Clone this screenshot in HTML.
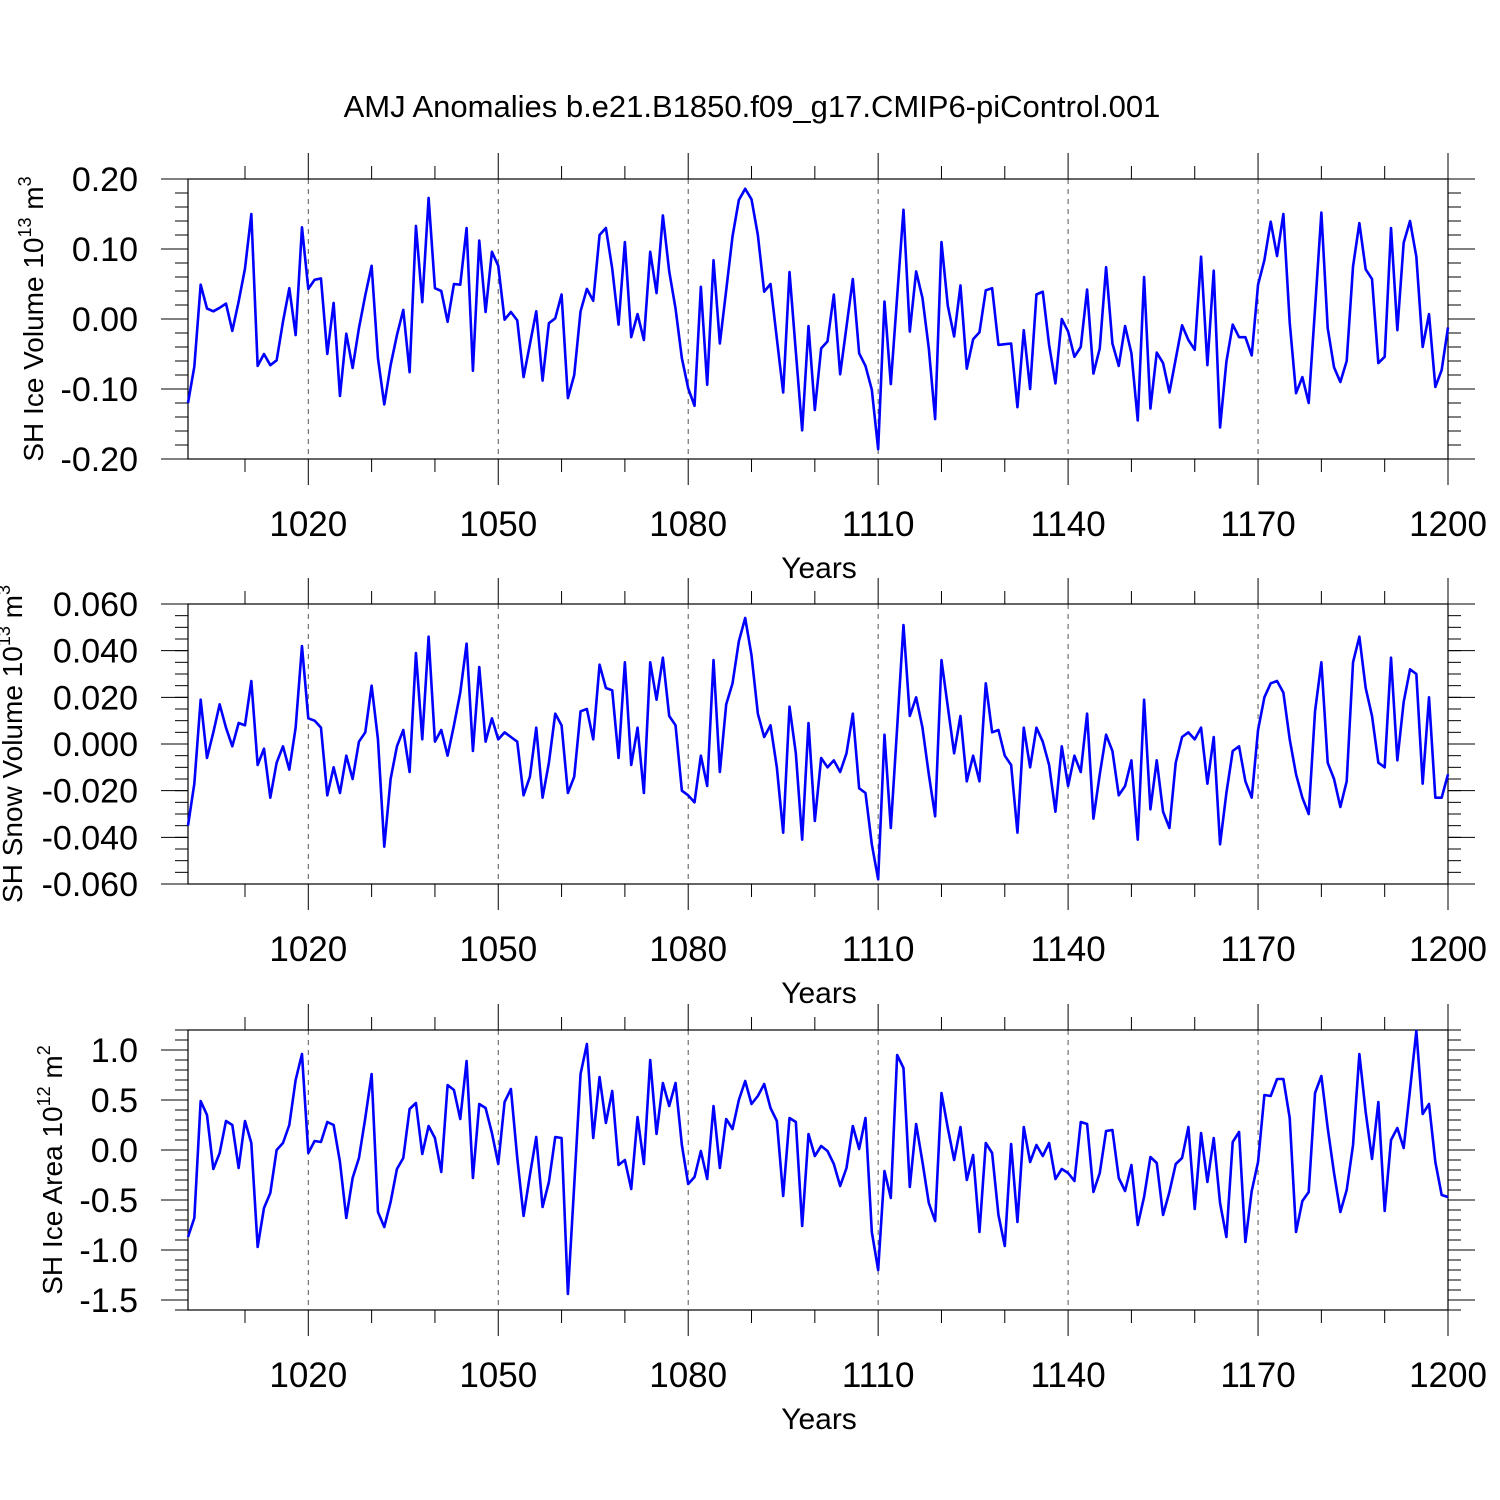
<!DOCTYPE html>
<html><head><meta charset="utf-8"><style>
html,body{margin:0;padding:0;background:#fff;}
svg{display:block;font-family:"Liberation Sans",Arial,sans-serif;}
</style></head><body>
<svg id="chart" width="1500" height="1500" viewBox="0 0 1500 1500" xmlns="http://www.w3.org/2000/svg">
<rect width="1500" height="1500" fill="#fff"/>
<text x="752" y="117" font-size="31" text-anchor="middle">AMJ Anomalies b.e21.B1850.f09_g17.CMIP6-piControl.001</text>
<g id="plots"></g>
</svg>
<script>
const startYear = 1001;
const endYear = 1200;
const xTickLabels = [1020,1050,1080,1110,1140,1170,1200];
const iceVol = [-0.120,-0.068,0.049,0.015,0.011,0.016,0.022,-0.017,0.025,0.072,0.150,-0.067,-0.050,-0.066,-0.059,-0.004,0.044,-0.023,0.131,0.043,
0.056,0.058,-0.050,0.023,-0.110,-0.021,-0.070,-0.013,0.034,0.076,-0.056,-0.122,-0.066,-0.023,0.013,-0.076,0.133,0.024,0.173,0.044,
0.040,-0.004,0.050,0.049,0.130,-0.074,0.112,0.010,0.096,0.076,-0.001,0.010,-0.002,-0.083,-0.036,0.011,-0.088,-0.006,0.001,0.035,
-0.113,-0.080,0.011,0.043,0.026,0.120,0.130,0.072,-0.008,0.110,-0.026,0.007,-0.030,0.096,0.037,0.148,0.068,0.015,-0.056,-0.099,
-0.124,0.046,-0.094,0.084,-0.035,0.041,0.118,0.170,0.186,0.171,0.120,0.039,0.050,-0.028,-0.105,0.067,-0.047,-0.159,-0.010,-0.130,
-0.042,-0.032,0.035,-0.079,-0.011,0.057,-0.049,-0.067,-0.101,-0.186,0.025,-0.093,0.032,0.156,-0.018,0.068,0.030,-0.042,-0.143,0.110,
0.019,-0.025,0.048,-0.071,-0.029,-0.019,0.041,0.044,-0.037,-0.036,-0.035,-0.126,-0.016,-0.100,0.035,0.039,-0.037,-0.092,0.000,-0.018,
-0.054,-0.040,0.042,-0.078,-0.042,0.074,-0.035,-0.067,-0.010,-0.049,-0.145,0.060,-0.128,-0.048,-0.063,-0.105,-0.057,-0.009,-0.030,-0.044,
0.089,-0.066,0.069,-0.155,-0.061,-0.008,-0.026,-0.026,-0.052,0.049,0.084,0.139,0.090,0.150,-0.005,-0.106,-0.083,-0.120,0.015,0.152,
-0.013,-0.069,-0.090,-0.060,0.075,0.137,0.071,0.057,-0.063,-0.054,0.130,-0.016,0.109,0.140,0.089,-0.040,0.007,-0.097,-0.073,-0.012];
const snowVol = [-0.035,-0.017,0.019,-0.006,0.005,0.017,0.007,-0.001,0.009,0.008,0.027,-0.009,-0.002,-0.023,-0.008,-0.001,-0.011,0.007,0.042,0.011,
0.010,0.007,-0.022,-0.010,-0.021,-0.005,-0.015,0.001,0.005,0.025,0.002,-0.044,-0.015,-0.001,0.006,-0.012,0.039,0.002,0.046,0.001,
0.006,-0.005,0.008,0.022,0.043,-0.003,0.033,0.001,0.011,0.002,0.005,0.003,0.001,-0.022,-0.014,0.007,-0.023,-0.008,0.013,0.008,
-0.021,-0.014,0.014,0.015,0.002,0.034,0.024,0.023,-0.006,0.035,-0.009,0.007,-0.021,0.035,0.019,0.037,0.012,0.008,-0.020,-0.022,
-0.025,-0.005,-0.018,0.036,-0.012,0.017,0.026,0.044,0.054,0.038,0.013,0.003,0.008,-0.010,-0.038,0.016,-0.004,-0.041,0.009,-0.033,
-0.006,-0.010,-0.007,-0.012,-0.004,0.013,-0.019,-0.021,-0.043,-0.058,0.004,-0.036,0.007,0.051,0.012,0.020,0.007,-0.013,-0.031,0.036,
0.016,-0.004,0.012,-0.016,-0.005,-0.016,0.026,0.005,0.006,-0.005,-0.009,-0.038,0.007,-0.010,0.007,0.001,-0.009,-0.029,-0.001,-0.018,
-0.005,-0.012,0.013,-0.032,-0.013,0.004,-0.003,-0.022,-0.018,-0.007,-0.041,0.019,-0.028,-0.007,-0.029,-0.036,-0.008,0.003,0.005,0.002,
0.007,-0.017,0.003,-0.043,-0.021,-0.003,-0.001,-0.016,-0.023,0.006,0.020,0.026,0.027,0.022,0.002,-0.013,-0.023,-0.030,0.014,0.035,
-0.008,-0.015,-0.027,-0.016,0.035,0.046,0.024,0.012,-0.008,-0.010,0.037,-0.007,0.018,0.032,0.030,-0.017,0.020,-0.023,-0.023,-0.013];
const iceArea = [-0.87,-0.68,0.49,0.35,-0.19,-0.03,0.29,0.25,-0.18,0.29,0.07,-0.97,-0.58,-0.43,0.00,0.07,0.25,0.70,0.96,-0.03,
0.09,0.08,0.28,0.25,-0.12,-0.68,-0.28,-0.08,0.32,0.76,-0.62,-0.77,-0.52,-0.19,-0.08,0.41,0.47,-0.04,0.24,0.12,
-0.22,0.65,0.60,0.31,0.89,-0.28,0.46,0.42,0.17,-0.14,0.48,0.61,-0.08,-0.66,-0.25,0.13,-0.57,-0.32,0.13,0.12,
-1.44,-0.35,0.76,1.06,0.12,0.73,0.27,0.59,-0.15,-0.10,-0.39,0.33,-0.14,0.90,0.16,0.67,0.44,0.67,0.05,-0.34,
-0.27,-0.01,-0.29,0.44,-0.18,0.31,0.21,0.50,0.69,0.46,0.54,0.66,0.42,0.29,-0.46,0.32,0.28,-0.76,0.16,-0.06,
0.04,-0.01,-0.14,-0.36,-0.18,0.24,0.01,0.32,-0.82,-1.20,-0.21,-0.48,0.95,0.82,-0.37,0.26,-0.12,-0.53,-0.71,0.57,
0.22,-0.10,0.23,-0.30,-0.05,-0.82,0.07,-0.03,-0.65,-0.96,0.06,-0.72,0.23,-0.12,0.05,-0.06,0.07,-0.29,-0.19,-0.23,
-0.31,0.28,0.26,-0.42,-0.23,0.19,0.20,-0.28,-0.41,-0.15,-0.75,-0.47,-0.07,-0.13,-0.65,-0.42,-0.14,-0.08,0.23,-0.59,
0.17,-0.32,0.12,-0.53,-0.87,0.08,0.18,-0.92,-0.41,-0.12,0.55,0.54,0.71,0.71,0.32,-0.82,-0.51,-0.42,0.57,0.74,
0.22,-0.23,-0.62,-0.40,0.05,0.96,0.38,-0.09,0.48,-0.61,0.10,0.22,0.02,0.60,1.19,0.36,0.46,-0.12,-0.45,-0.47];
const ticks1 = ["0.20","0.10","0.00","-0.10","-0.20"];
const ticks2 = ["0.060","0.040","0.020","0.000","-0.020","-0.040","-0.060"];
const ticks3 = ["1.0","0.5","0.0","-0.5","-1.0","-1.5"];

const NS="http://www.w3.org/2000/svg";
const X0=188, X1=1448;
function xScale(yr){return X0+(yr-startYear)*(X1-X0)/(endYear-startYear);}
function mk(tag,attrs,parent){const e=document.createElementNS(NS,tag);for(const k in attrs)e.setAttribute(k,attrs[k]);parent.appendChild(e);return e;}
const root=document.getElementById('plots');

const panels=[
 {name:'ice-volume',top:179,vmin:-0.2,vmax:0.2,major:0.1,minor:0.02,labels:ticks1,data:iceVol,title:['SH Ice Volume 10','13',' m','3'],tx:33},
 {name:'snow-volume',top:604,vmin:-0.06,vmax:0.06,major:0.02,minor:0.005,labels:ticks2,data:snowVol,title:['SH Snow Volume 10','13',' m','3'],tx:12},
 {name:'ice-area',top:1030,vmin:-1.6,vmax:1.2,major:0.5,minor:0.1,labels:ticks3,data:iceArea,title:['SH Ice Area 10','12',' m','2'],tx:52}
];
panels.forEach(p=>{
  const H=280, B=p.top+H;
  const yS=v=>B-(v-p.vmin)*H/(p.vmax-p.vmin);
  const g=mk('g',{},root);
  
  
  xTickLabels.slice(0,-1).forEach(yr=>{
    const l=mk('line',{x1:xScale(yr),x2:xScale(yr),y1:p.top,y2:B,stroke:'#555','stroke-width':1,'stroke-dasharray':'5,5'},g);
    
    
  });
  for(let yr=1010;yr<=1200;yr+=10){
    const maj=(yr-1020)%30===0;
    const len=maj?26:13;
    mk('line',{x1:xScale(yr),x2:xScale(yr),y1:p.top-len,y2:p.top,stroke:'#000','stroke-width':1},g);
    mk('line',{x1:xScale(yr),x2:xScale(yr),y1:B,y2:B+len,stroke:'#000','stroke-width':1},g);
  }
  xTickLabels.forEach(yr=>{
    const t=mk('text',{x:xScale(yr),y:B+77,'font-size':35,'text-anchor':'middle'},g);
    t.textContent=yr;
    
    
  });
  const xt=mk('text',{x:819,y:B+119,'font-size':30,'text-anchor':'middle'},g);
  xt.textContent='Years';
  
  
  const nMin=Math.round((p.vmax-p.vmin)/p.minor);
  for(let i=0;i<=nMin;i++){
    const v=p.vmin+i*p.minor; const y=yS(v);
    mk('line',{x1:X0-13,x2:X0,y1:y,y2:y,stroke:'#000','stroke-width':1},g);
    mk('line',{x1:X1,x2:X1+13,y1:y,y2:y,stroke:'#000','stroke-width':1},g);
  }
  p.labels.forEach(lbl=>{
    const y=yS(parseFloat(lbl));
    mk('line',{x1:X0-27,x2:X0,y1:y,y2:y,stroke:'#000','stroke-width':1},g);
    mk('line',{x1:X1,x2:X1+27,y1:y,y2:y,stroke:'#000','stroke-width':1},g);
    const t=mk('text',{x:138,y:y+12,'font-size':34,'text-anchor':'end'},g);
    t.textContent=lbl;
    
    
  });
  mk('rect',{x:X0,y:p.top,width:X1-X0,height:H,fill:'none',stroke:'#000','stroke-width':1.2},g);
  const cy=p.top+140;
  const yt=mk('text',{x:p.tx,y:cy,'font-size':28,'text-anchor':'middle',transform:`rotate(-90 ${p.tx} ${cy})`,dy:'10'},g);
  
  
  const s1=mk('tspan',{},yt); s1.textContent=p.title[0];
  const s2=mk('tspan',{'font-size':18,dy:-12},yt); s2.textContent=p.title[1];
  const s3=mk('tspan',{dy:12},yt); s3.textContent=p.title[2];
  const s4=mk('tspan',{'font-size':18,dy:-12},yt); s4.textContent=p.title[3];
  const pts=p.data.map((v,i)=>xScale(startYear+i).toFixed(2)+','+yS(v).toFixed(2)).join(' ');
  const line=mk('polyline',{points:pts,fill:'none',stroke:'#0000ff','stroke-width':2.6,'stroke-linejoin':'round'},g);
  
  
});
</script>
</body></html>
